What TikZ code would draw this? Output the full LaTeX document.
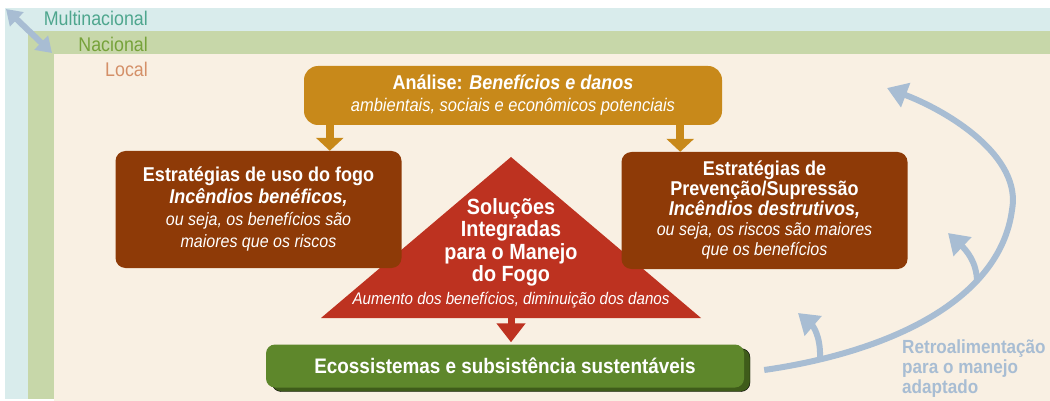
\documentclass[tikz,border=0pt]{standalone}
\usepackage{fontspec}
\setmainfont{Liberation Sans}[FakeStretch=0.9]
\usetikzlibrary{arrows.meta,shadows}
\definecolor{multiband}{HTML}{D9ECEC}
\definecolor{naciband}{HTML}{C7D7A9}
\definecolor{localband}{HTML}{F9F0E3}
\definecolor{multitext}{HTML}{4EA68E}
\definecolor{nacitext}{HTML}{76A23A}
\definecolor{localtext}{HTML}{D49068}
\definecolor{goldbox}{HTML}{C8891A}
\definecolor{brownbox}{HTML}{8E3A07}
\definecolor{redtri}{HTML}{BD3220}
\definecolor{greenbox}{HTML}{5E872B}
\definecolor{greendark}{HTML}{3F5C1A}
\definecolor{fbblue}{HTML}{A8BDD3}
\begin{document}
\begin{tikzpicture}[x=1pt,y=-1pt,
    box/.style={rounded corners=10pt,fill=brownbox,text=white,align=center,
      minimum width=286pt,minimum height=117pt,inner sep=0pt},
    band/.style={anchor=east,inner sep=0pt,font=\fontsize{19.8}{20}\selectfont},
    down/.style={line width=8pt,-{Triangle[width=27pt,length=13pt]}},
    fb/.style={line width=6pt,draw=fbblue,-{Triangle[width=25pt,length=20pt]}}]
  \useasboundingbox (0,0) rectangle (1050,401);
  % nested levels
  \fill[multiband] (5,8) rectangle (1050,399);
  \fill[naciband] (28,31) rectangle (1050,399);
  \fill[localband] (54,54) rectangle (1050,401);
  \node[band,text=multitext] (multi) at (148,18) {Multinacional};
  \node[band,text=nacitext] (naci) at (148,44) {Nacional};
  \node[band,text=localtext] (local) at (148,69) {Local};
  \coordinate (lv1) at (6,9);
  \coordinate (lv2) at (52,53);
  \draw[line width=6pt,fbblue,{Triangle[width=19pt,length=15pt]}-{Triangle[width=19pt,length=15pt]}] (lv1) -- (lv2);
  % triangle
  \coordinate (tritop) at (511,157);
  \coordinate (trileft) at (321,318);
  \coordinate (triright) at (701,318);
  \coordinate (tribase) at (511,318);
  \fill[redtri] (tritop) -- (triright) -- (trileft) -- cycle;
  \node[text=white,align=center,inner sep=0pt,font=\fontsize{22}{22.5}\selectfont\bfseries] (sol) at (511,253)
    {Soluções\\Integradas\\para o Manejo\\do Fogo\\
     {\fontsize{16.8}{22.5}\selectfont\mdseries\itshape Aumento dos benefícios, diminuição dos danos}};
  % boxes
  \node[rounded corners=14pt,fill=goldbox,text=white,align=center,minimum width=418pt,minimum height=59pt,
    inner sep=0pt,font=\fontsize{18.3}{22}\selectfont\itshape] (analise) at (513,95.5)
    {{\fontsize{20}{22}\selectfont\bfseries\upshape Análise: \itshape Benefícios e danos}\\
     ambientais, sociais e econômicos potenciais};
  \node[box,font=\fontsize{17.8}{22}\selectfont\itshape] (uso) at (258.5,209.5)
    {{\fontsize{20}{22}\selectfont\bfseries\upshape Estratégias de uso do fogo}\\
     {\fontsize{20}{22}\selectfont\bfseries Incêndios benéficos,}\\
     ou seja, os benefícios são\\maiores que os riscos};
  \node[box,font=\fontsize{17.8}{20}\selectfont\itshape] (prev) at (764.5,210.5)
    {{\fontsize{20}{20}\selectfont\bfseries\upshape Estratégias de}\\
     {\fontsize{20}{20}\selectfont\bfseries\upshape Prevenção/Supressão}\\
     {\fontsize{20}{20}\selectfont\bfseries Incêndios destrutivos,}\\
     ou seja, os riscos são maiores\\que os benefícios};
  \node[rounded corners=9pt,fill=greenbox,text=white,minimum width=478pt,minimum height=43pt,inner sep=0pt,
    copy shadow={shadow xshift=6pt,shadow yshift=-4pt,fill=greendark},
    font=\fontsize{21}{22}\selectfont\bfseries] (eco) at (505,366) {Ecossistemas e subsistência sustentáveis};
  % arrows
  \draw[down,goldbox] ([xshift=26pt]analise.south west) -- ([xshift=26pt]analise.south west |- uso.north);
  \draw[down,goldbox] ([xshift=-42pt]analise.south east) -- ([xshift=-42pt]analise.south east |- prev.north);
  \draw[line width=7pt,redtri,-{Triangle[width=28pt,length=19pt]}] (tribase) -- ([yshift=2pt]tribase |- eco.north);
  % feedback
  \coordinate (fb0) at ([shift={(20pt,-4pt)}]eco.east);
  \coordinate (fb1) at (820,359);
  \coordinate (fb2) at (977,282);
  \draw[fb] (fb0) .. controls (890,352) and (1000,300) .. (1012,210)
    .. controls (1022,157) and (950,112) .. (887,88);
  \draw[fb] (fb1) .. controls (821,335) and (812,325) .. (798,313);
  \draw[fb] (fb2) .. controls (977,262) and (966,250) .. (948,233);
  \node[anchor=north west,align=left,inner sep=0pt,text=fbblue,font=\fontsize{19}{20}\selectfont\bfseries] (fbtext) at (902,340)
    {Retroalimentação\\para o manejo\\adaptado};
\end{tikzpicture}
\end{document}
